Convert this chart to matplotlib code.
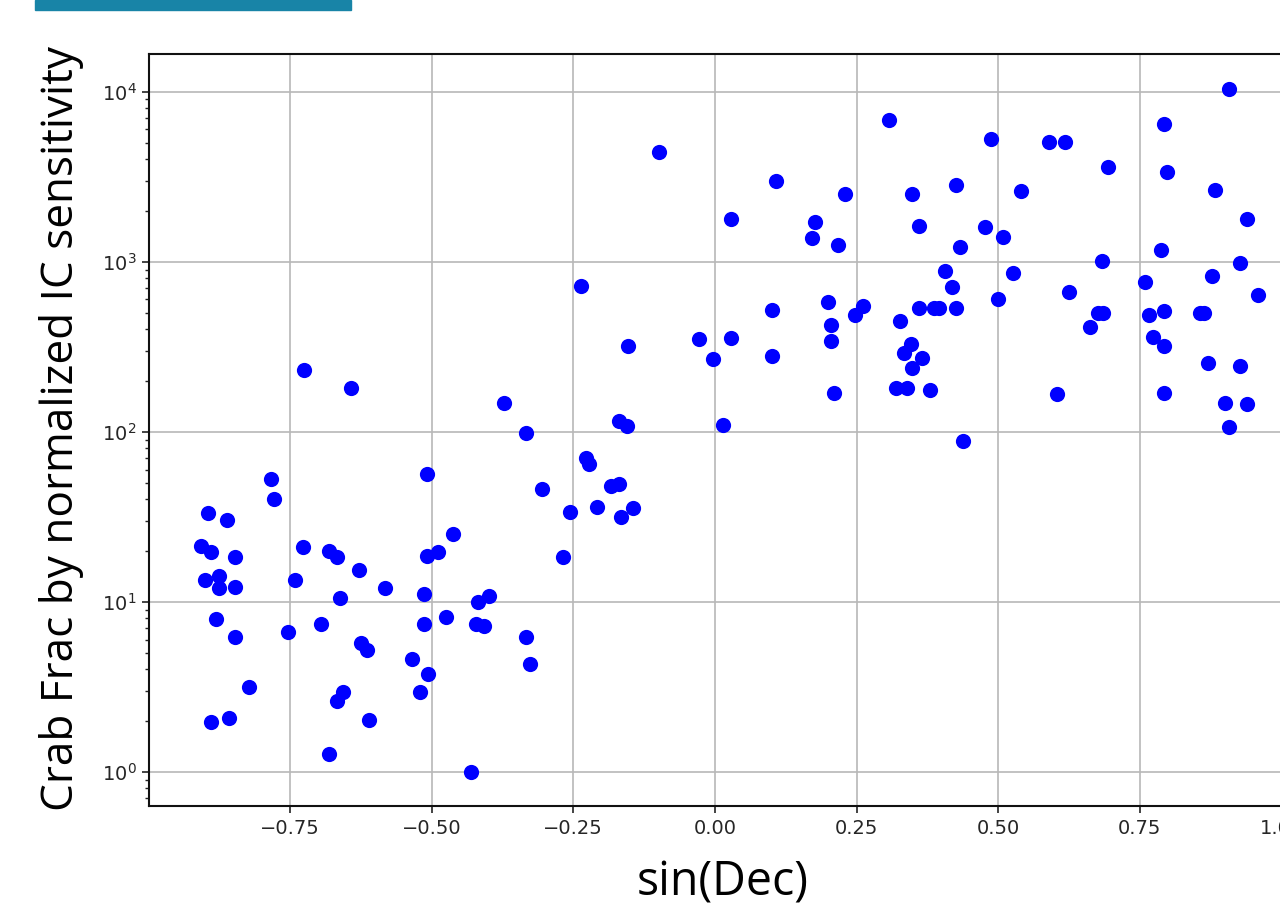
import matplotlib
matplotlib.use("Agg")
import matplotlib.pyplot as plt
from matplotlib.patches import Rectangle

# sin(Dec) of each source
sin_dec = [
    -0.908, -0.894, -0.901, -0.889, -0.880, -0.875, -0.876, -0.862, -0.848, -0.848,
    -0.848, -0.889, -0.857, -0.822, -0.783, -0.778, -0.753, -0.741, -0.726, -0.728,
    -0.695, -0.682, -0.668, -0.661, -0.668, -0.656, -0.682, -0.642, -0.629, -0.624,
    -0.615, -0.610, -0.583, -0.534, -0.520, -0.506, -0.513, -0.513, -0.509, -0.508,
    -0.488, -0.474, -0.462, -0.418, -0.398, -0.421, -0.407, -0.430, -0.372, -0.333,
    -0.333, -0.326, -0.306, -0.269, -0.255, -0.236, -0.227, -0.223, -0.209, -0.183,
    -0.170, -0.165, -0.144, -0.170, -0.156, -0.153, -0.098, -0.029, -0.003, 0.015,
    0.029, 0.029, 0.108, 0.101, 0.101, 0.172, 0.177, 0.199, 0.204, 0.204,
    0.211, 0.217, 0.230, 0.248, 0.262, 0.307, 0.320, 0.326, 0.333, 0.339,
    0.346, 0.347, 0.347, 0.361, 0.361, 0.366, 0.379, 0.386, 0.395, 0.406,
    0.419, 0.425, 0.425, 0.432, 0.437, 0.477, 0.488, 0.500, 0.509, 0.527,
    0.541, 0.590, 0.604, 0.618, 0.625, 0.662, 0.676, 0.685, 0.683, 0.694,
    0.760, 0.766, 0.773, 0.788, 0.792, 0.792, 0.792, 0.792, 0.798, 0.857,
    0.864, 0.870, 0.877, 0.882, 0.901, 0.908, 0.908, 0.927, 0.927, 0.940,
    0.940, 0.959,
]

# Crab fraction by normalized IC sensitivity
crab_frac = [
    21.3, 33.2, 13.4, 19.6, 7.9, 14.2, 12.0, 30.2, 18.3, 12.2,
    6.2, 1.96, 2.07, 3.15, 52.7, 40.2, 6.6, 13.4, 231, 21.0,
    7.4, 19.9, 18.3, 10.5, 2.6, 2.94, 1.27, 181, 15.4, 5.7,
    5.2, 2.01, 12.0, 4.6, 2.94, 3.76, 11.1, 7.4, 18.6, 56.4,
    19.6, 8.1, 25.0, 9.96, 10.8, 7.4, 7.2, 1.0, 147, 98,
    6.2, 4.3, 46, 18.3, 33.7, 720, 70, 64.6, 36, 48,
    49.3, 31.5, 35.6, 116, 108, 319, 4420, 351, 268, 109,
    1783, 356, 2970, 520, 280, 1373, 1720, 582, 426, 342,
    169, 1254, 2490, 488, 547, 6840, 181, 446, 289, 181,
    327, 2490, 236, 1629, 532, 270, 177, 532, 532, 881,
    707, 2838, 532, 1225, 88.5, 1607, 5250, 604, 1403, 861,
    2596, 5040, 167, 5040, 666, 415, 501, 501, 1010, 3620,
    756, 488, 359, 1172, 6430, 511, 319, 169, 3383, 499,
    499, 253, 827, 2652, 148, 10420, 107, 983, 244, 1783,
    146, 637,
]

x_ticks = [-0.75, -0.50, -0.25, 0.00, 0.25, 0.50, 0.75, 1.00]
x_label = "sin(Dec)"
y_label = "Crab Frac by normalized IC sensitivity"

W, H = 1280, 905
fig = plt.figure(figsize=(W / 100, H / 100), dpi=100)

# teal banner remnant at top-left
fig.patches.append(Rectangle((35 / W, 1 - 10 / H), 316 / W, 10 / H,
                             transform=fig.transFigure, color="#1884a7", zorder=5))

ax = fig.add_axes([149 / W, 1 - 806 / H, 1163.5 / W, (806 - 54.5) / H])
ax.scatter(sin_dec, crab_frac, s=120, color="#0000ff", linewidths=0, zorder=3)
ax.set_yscale("log")
ax.set_xlim(-0.999, 1.0548)
ax.set_ylim(10 ** -0.2009, 10 ** 4.2189)
ax.set_xticks(x_ticks)
ax.set_xticklabels([f"{t:.2f}".replace("-", "\u2212") for t in x_ticks])
ax.grid(True, which="major", color="#b8b8b8", linewidth=1.2, zorder=0)
ax.set_axisbelow(True)

ax.tick_params(axis="both", which="major", labelsize=14, length=5, width=1.2,
               pad=4, labelcolor="#262626", color="#222222")
ax.tick_params(axis="y", which="minor", length=3, width=1.0, color="#222222")
for sp in ax.spines.values():
    sp.set_linewidth(1.5)
    sp.set_color("#111111")

fig.text(62 / W, 1 - 428 / H, y_label, rotation=90, ha="center", va="center",
         fontsize=31.8, family=["Open Sans", "DejaVu Sans"], color="black")
fig.text(723 / W, 1 - 895 / H, x_label, ha="center", va="baseline",
         fontsize=33.5, family=["Open Sans", "DejaVu Sans"], color="black")

fig.savefig("out.png", dpi=100)
